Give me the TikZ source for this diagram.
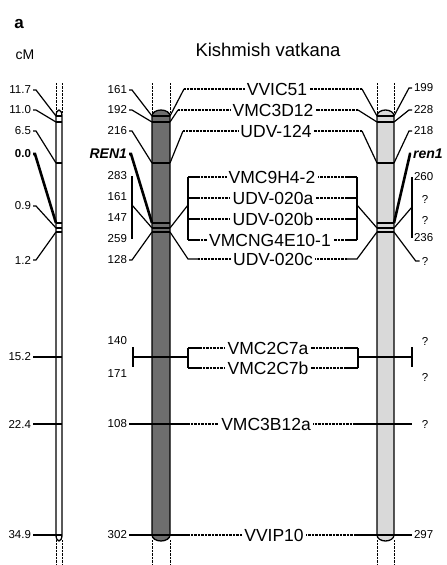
\documentclass[tikz,border=0pt]{standalone}
\usepackage{fontspec}
\setmainfont{Liberation Sans}
\definecolor{kdark}{HTML}{6E6E6E}
\definecolor{klight}{HTML}{D9D9D9}
\tikzset{
  num/.style={font=\fontsize{11.5}{12}\selectfont,inner sep=1.5pt},
  mk/.style={font=\fontsize{17.5}{19}\selectfont,inner sep=2pt},
  dotcon/.style={dash pattern=on .9pt off .5pt,line width=1.1pt},
  extln/.style={dash pattern=on .8pt off .6pt,line width=.7pt},
  chrom/.style={line width=1.3pt},
  heavy/.style={line width=2.6pt}
}
\begin{document}
\begin{tikzpicture}[x=1pt,y=-1pt,line width=1.2pt]
  \useasboundingbox (0,0) rectangle (447,565);
  \node[font=\fontsize{17}{18}\selectfont\bfseries] (panel) at (19,24) {a};
  \node[font=\fontsize{14}{15}\selectfont] (cm) at (25,55) {cM};
  \node[font=\fontsize{18.5}{20}\selectfont] (title) at (268,50) {Kishmish vatkana};
  % band positions on the three chromosomes
  \foreach \p/\xl/\xr in {c/56/62,k/152/170,g/377/394}
    \foreach \n/\yy in {a/116,b/122,c/163,d/223,e/228,f/232,h/357,i/424,j/535}
      {\coordinate (\p l\n) at (\xl,\yy);
       \coordinate (\p r\n) at (\xr,\yy);}
  \foreach \p/\rx/\col in {c/3/white,k/9/kdark,g/8.5/klight}{
    \draw[chrom,fill=\col] (\p la) arc[start angle=180,end angle=360,x radius=\rx,y radius=6]
      -- (\p rj) arc[start angle=0,end angle=180,x radius=\rx,y radius=6] -- cycle;
    \foreach \n in {a,b,c,e,f} \draw (\p l\n) -- (\p r\n);
    \draw[line width=2pt] (\p ld) -- (\p rd);
    \draw[extln] (\p la) ++(0,-3) -- ++(0,-30);
    \draw[extln] (\p ra) ++(0,-3) -- ++(0,-30);
    \draw[extln] (\p lj) ++(0,5) -- ++(0,25);
    \draw[extln] (\p rj) ++(0,5) -- ++(0,25);
  }
  % cM scale
  \node[num,anchor=east] (c117) at (33,90) {11.7};
  \node[num,anchor=east] (c110) at (33,110) {11.0};
  \node[num,anchor=east] (c65) at (33,131) {6.5};
  \node[num,anchor=east,font=\fontsize{11.5}{12}\selectfont\bfseries] (c00) at (33,154) {0.0};
  \node[num,anchor=east] (c09) at (33,206) {0.9};
  \node[num,anchor=east] (c12) at (33,260) {1.2};
  \node[num,anchor=east] (c152) at (33,357) {15.2};
  \node[num,anchor=east] (c224) at (33,424) {22.4};
  \node[num,anchor=east] (c349) at (33,535) {34.9};
  \draw (c117.east) -- ++(3,0) -- (cla);
  \draw (c110.east) -- ++(3,0) -- (clb);
  \draw (c65.east) -- ++(3,0) -- (clc);
  \draw[heavy] (c00.east) -- ++(2,0) -- (cld);
  \draw (c09.east) -- ++(3,0) -- (cle);
  \draw (c12.east) -- ++(3,0) -- (clf);
  \draw (c152.east) -- (crh);
  \draw (c224.east) -- (cri);
  \draw (c349.east) -- (crj);
  % sizes, first allele
  \node[num,anchor=east] (k161a) at (129,90) {161};
  \node[num,anchor=east] (k192) at (129,110) {192};
  \node[num,anchor=east] (k216) at (129,131) {216};
  \node[anchor=east,inner sep=1.5pt,font=\fontsize{14}{15}\selectfont\bfseries\itshape] (ren) at (129,154) {REN1};
  \node[num,anchor=east] (k283) at (129,176) {283};
  \node[num,anchor=east] (k161b) at (129,197) {161};
  \node[num,anchor=east] (k147) at (129,218) {147};
  \node[num,anchor=east] (k259) at (129,239) {259};
  \node[num,anchor=east] (k128) at (129,260) {128};
  \node[num,anchor=east] (k140) at (129,341) {140};
  \node[num,anchor=east] (k171) at (129,374) {171};
  \node[num,anchor=east] (k108) at (129,424) {108};
  \node[num,anchor=east] (k302) at (129,535) {302};
  \coordinate (kbr) at (132,205);
  \draw (k161a.east) -- ++(3,0) -- (kla);
  \draw (k192.east) -- ++(3,0) -- (klb);
  \draw (k216.east) -- ++(3,0) -- (klc);
  \draw[heavy] (ren.east) -- ++(2,0) -- (kld);
  \draw (k283.east -| kbr) -- (k259.east -| kbr);
  \draw (kbr) -- (kle);
  \draw (k128.east) -- ++(3,0) -- (klf);
  % markers
  \node[mk] (vvic51) at (277,89) {VVIC51};
  \node[mk] (vmc3d12) at (273,110) {VMC3D12};
  \node[mk] (udv124) at (276,131) {UDV-124};
  \node[mk] (vmc9h4) at (272,177) {VMC9H4-2};
  \node[mk] (udv20a) at (273,198) {UDV-020a};
  \node[mk] (udv20b) at (273,219) {UDV-020b};
  \node[mk] (vmcng) at (270,240) {VMCNG4E10-1};
  \node[mk] (udv20c) at (273,259) {UDV-020c};
  \node[mk] (vmc2c7a) at (268,348) {VMC2C7a};
  \node[mk] (vmc2c7b) at (268,368) {VMC2C7b};
  \node[mk] (vmc3b12a) at (266,424) {VMC3B12a};
  \node[mk] (vvip10) at (274,535) {VVIP10};
  \coordinate (lb) at (188,205);
  \coordinate (rb) at (357,205);
  \coordinate (lc) at (188,357);
  \coordinate (rc) at (358,357);
  % first allele to markers
  \draw (kra) -- (184,0 |- vvic51) edge[dotcon] (vvic51);
  \draw (krb) -- (178,0 |- vmc3d12) edge[dotcon] (vmc3d12);
  \draw (krc) -- (183,0 |- udv124) edge[dotcon] (udv124);
  \draw (vmc9h4 -| lb) -- (vmcng -| lb);
  \foreach \m in {vmc9h4,udv20a,udv20b,vmcng}
    \draw (\m -| lb) -- ++(10,0) edge[dotcon] (\m);
  \draw (kre) -- (lb);
  \draw (krf) -- (udv20c -| lb) -- ++(10,0) edge[dotcon] (udv20c);
  \draw (133,347) -- (133,367);
  \draw (lc) -- (133,357);
  \draw (vmc2c7a -| lc) -- (vmc2c7b -| lc);
  \foreach \m in {vmc2c7a,vmc2c7b}
    \draw (\m -| lc) -- ++(12,0) edge[dotcon] (\m);
  \draw (k108.east) -- (vmc3b12a -| lb) edge[dotcon] (vmc3b12a);
  \draw (k302.east) -- (vvip10 -| lb) edge[dotcon] (vvip10);
  % markers to second allele
  \draw (gla) -- (362,0 |- vvic51) edge[dotcon] (vvic51);
  \draw (glb) -- (358,0 |- vmc3d12) edge[dotcon] (vmc3d12);
  \draw (glc) -- (362,0 |- udv124) edge[dotcon] (udv124);
  \draw (vmc9h4 -| rb) -- (vmcng -| rb);
  \foreach \m in {vmc9h4,udv20a,udv20b,vmcng}
    \draw (\m -| rb) -- ++(-10,0) edge[dotcon] (\m);
  \draw (gle) -- (rb);
  \draw (glf) -- (udv20c -| rb) -- ++(-10,0) edge[dotcon] (udv20c);
  \draw (vmc2c7a -| rc) -- (vmc2c7b -| rc);
  \foreach \m in {vmc2c7a,vmc2c7b}
    \draw (\m -| rc) -- ++(-12,0) edge[dotcon] (\m);
  \draw (rc) -- (412,357);
  \draw (412,347) -- (412,367);
  \draw[dotcon] (vmc3b12a) -- (355,0 |- vmc3b12a);
  \draw (355,0 |- vmc3b12a) -- (412,0 |- vmc3b12a);
  \draw[dotcon] (vvip10) -- (355,0 |- vvip10);
  % sizes, second allele
  \node[num,anchor=west] (g199) at (412,88) {199};
  \node[num,anchor=west] (g228) at (412,110) {228};
  \node[num,anchor=west] (g218) at (412,131) {218};
  \node[anchor=west,inner sep=1.5pt,font=\fontsize{14}{15}\selectfont\bfseries\itshape] (ren1) at (411,154) {ren1};
  \node[num,anchor=west] (g260) at (412,177) {260};
  \node[num] (gq1) at (425,199) {?};
  \node[num] (gq2) at (425,220) {?};
  \node[num,anchor=west] (g236) at (412,238) {236};
  \node[num] (gq3) at (425,261) {?};
  \node[num] (gq4) at (425,341) {?};
  \node[num] (gq5) at (425,377) {?};
  \node[num] (gq6) at (425,424) {?};
  \node[num,anchor=west] (g297) at (412,535) {297};
  \coordinate (gbr) at (412,207);
  \draw (g199.west) -- ++(-3,0) -- (gra);
  \draw (g228.west) -- ++(-3,0) -- (grb);
  \draw (g218.west) -- ++(-3,0) -- (grc);
  \draw[heavy] (ren1.west) -- ++(-1,0) -- (grd);
  \draw (g260.west -| gbr) -- (g236.west -| gbr);
  \draw (gbr) -- (gre);
  \draw (gq3.west) -- ++(-4,0) -- (grf);
  \draw (355,0 |- vvip10) -- (g297.west);
\end{tikzpicture}
\end{document}
